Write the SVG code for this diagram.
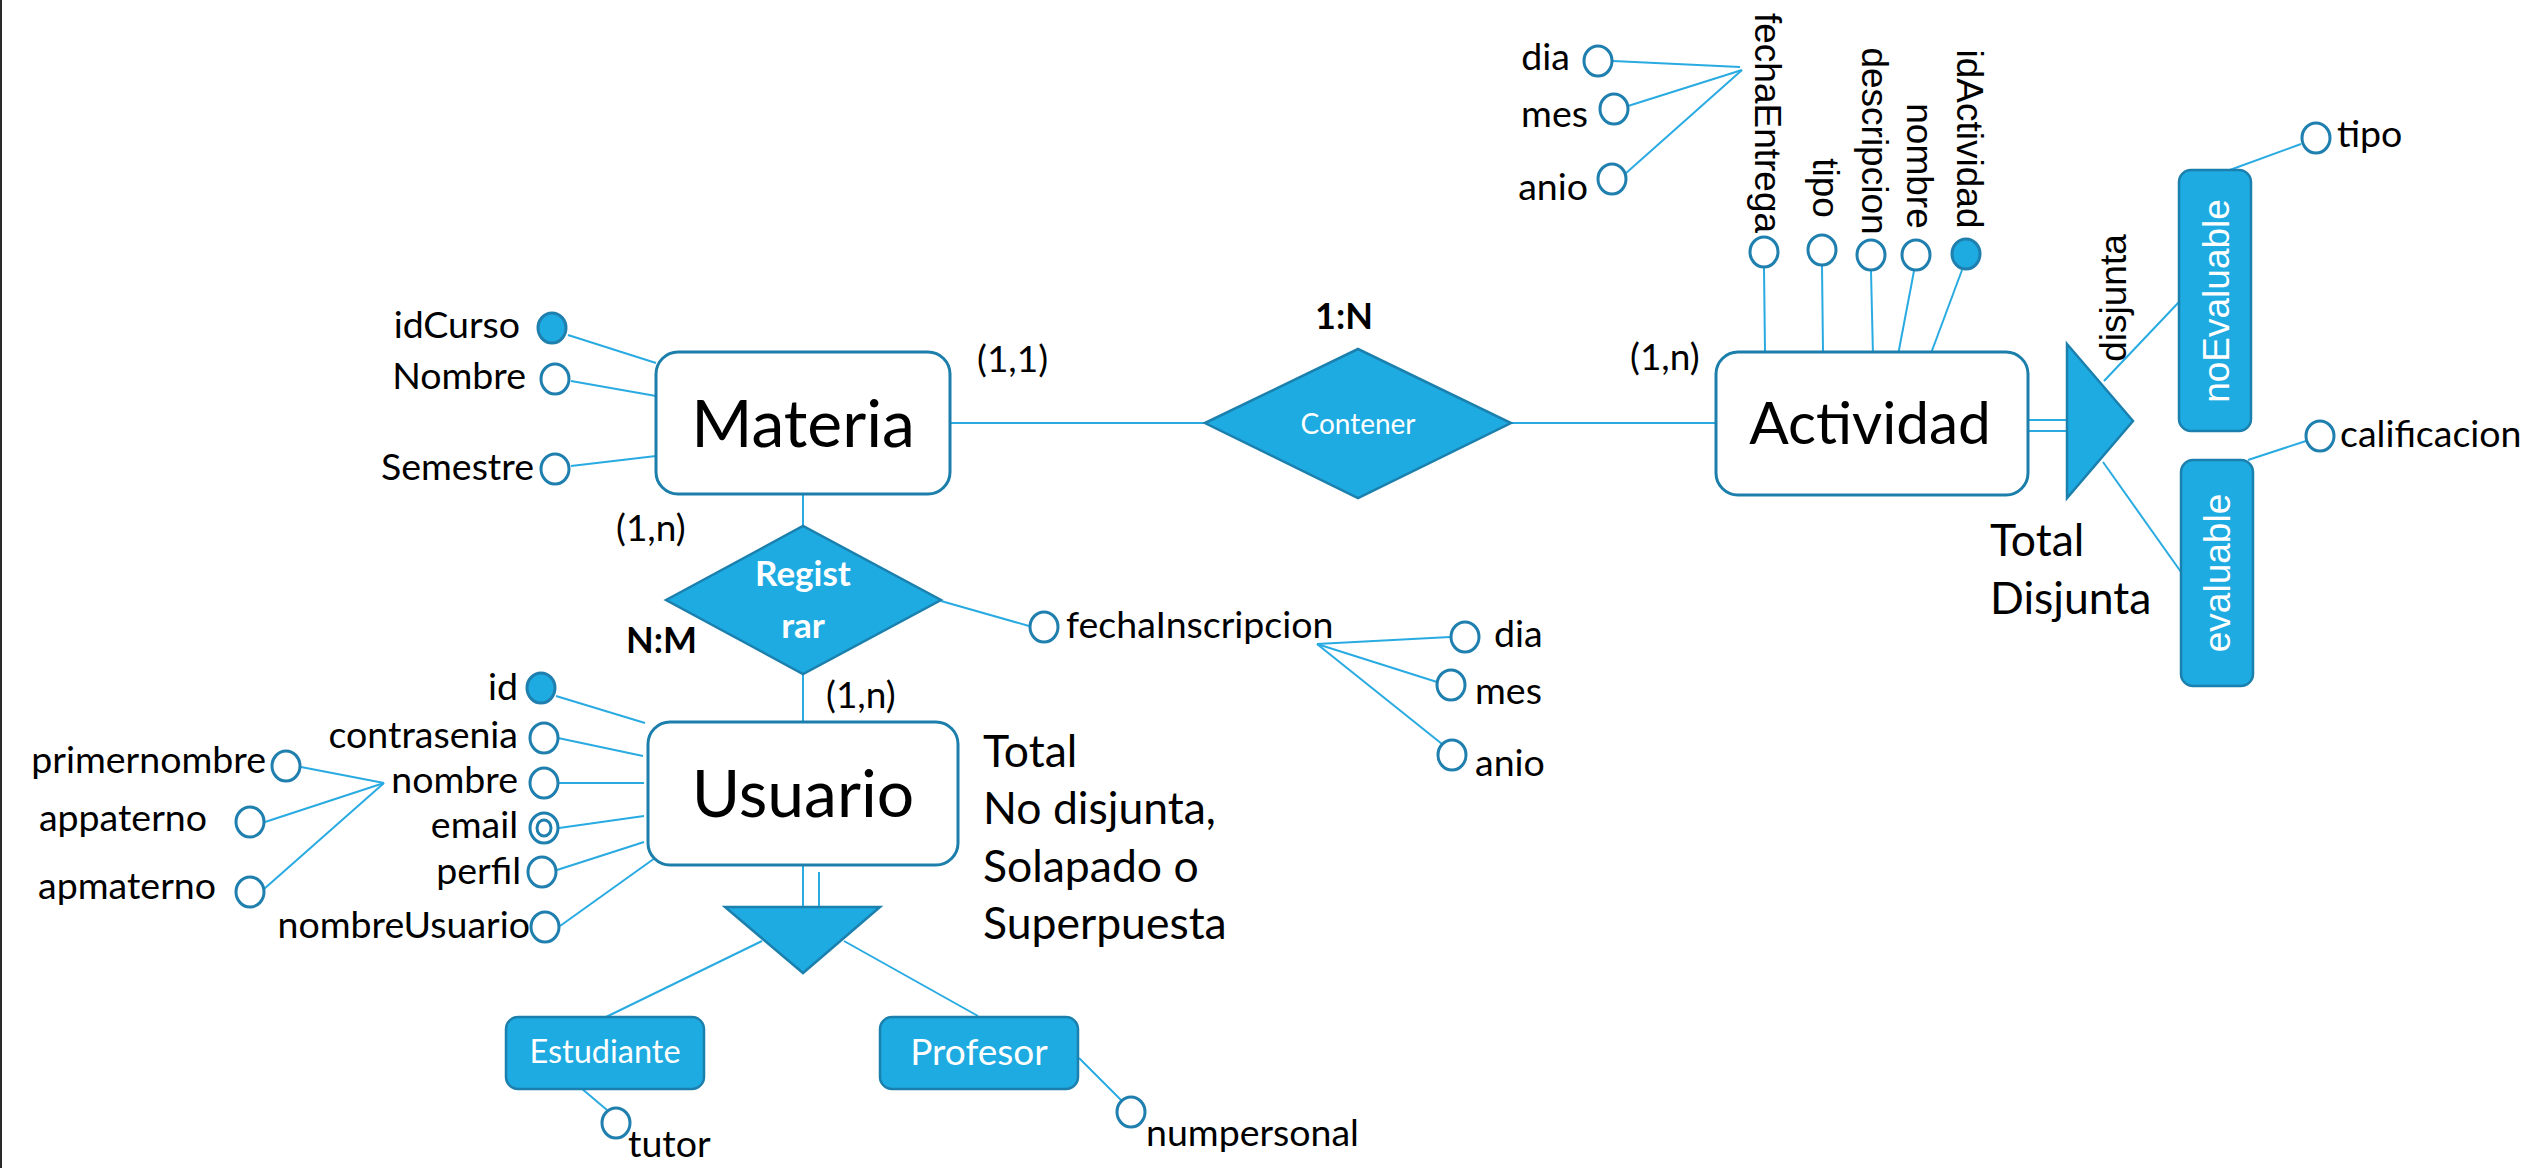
<svg xmlns="http://www.w3.org/2000/svg" width="2534" height="1168" viewBox="0 0 2534 1168">
  <style>
    .ent { fill: #ffffff; stroke: #1c7fab; stroke-width: 3; }
    .rel { fill: #1eabe2; stroke: #1b80ad; stroke-width: 2.5; }
    .sub { fill: #1eabe2; stroke: #1b80ad; stroke-width: 2.5; }
    .att { fill: #ffffff; stroke: #1f7fae; stroke-width: 3; }
    .key { fill: #1eabe2; stroke: #1f7fae; stroke-width: 3; }
    .ln  { stroke: #29abe2; stroke-width: 2; fill: none; }
    text { font-family: Lato, "Liberation Sans", sans-serif; fill: #000000; }
    .big { font-size: 66px; }
    .lbl { font-size: 37.5px; }
    .note { font-size: 44.5px; }
    .card { font-size: 37px; }
    .bold { font-size: 36px; font-weight: bold; }
    .wht { fill: #ffffff; }
    .rot { font-family: "Liberation Sans", Arial, sans-serif; font-size: 37px; }
    .mid { text-anchor: middle; }
    .end { text-anchor: end; }
  </style>

  <!-- page edge -->
  <rect x="0" y="0" width="2" height="1168" fill="#2a2a2a"/>

  <!-- connectors -->
  <g id="connectors">
    <!-- Materia attributes -->
    <line class="ln" x1="568" y1="335" x2="656" y2="363"/>
    <line class="ln" x1="571" y1="381" x2="656" y2="396"/>
    <line class="ln" x1="571" y1="466" x2="656" y2="456"/>
    <!-- Materia - Contener - Actividad -->
    <line class="ln" x1="950" y1="423" x2="1205" y2="423"/>
    <line class="ln" x1="1511" y1="423" x2="1716" y2="423"/>
    <!-- Materia - Registrar - Usuario -->
    <line class="ln" x1="803" y1="494" x2="803" y2="526"/>
    <line class="ln" x1="803" y1="674" x2="803" y2="722"/>
    <line class="ln" x1="941" y1="601" x2="1029" y2="626"/>
    <!-- fechaInscripcion parts -->
    <line class="ln" x1="1317" y1="644" x2="1450" y2="637"/>
    <line class="ln" x1="1317" y1="644" x2="1437" y2="682"/>
    <line class="ln" x1="1317" y1="644" x2="1442" y2="744"/>
    <!-- Actividad attributes -->
    <line class="ln" x1="1764" y1="268" x2="1765" y2="352"/>
    <line class="ln" x1="1822" y1="266" x2="1823" y2="352"/>
    <line class="ln" x1="1871" y1="271" x2="1873" y2="356"/>
    <line class="ln" x1="1914" y1="271" x2="1898" y2="355"/>
    <line class="ln" x1="1962" y1="270" x2="1930" y2="356"/>
    <!-- fechaEntrega parts -->
    <line class="ln" x1="1613" y1="61" x2="1740" y2="67"/>
    <line class="ln" x1="1628" y1="106" x2="1742" y2="70"/>
    <line class="ln" x1="1625" y1="174" x2="1742" y2="70"/>
    <!-- Actividad specialization -->
    <line class="ln" x1="2028" y1="420" x2="2067" y2="420"/>
    <line class="ln" x1="2028" y1="431" x2="2067" y2="431"/>
    <line class="ln" x1="2104" y1="381" x2="2179" y2="302"/>
    <line class="ln" x1="2103" y1="462" x2="2181" y2="572"/>
    <line class="ln" x1="2227" y1="171" x2="2301" y2="144"/>
    <line class="ln" x1="2248" y1="460" x2="2306" y2="441"/>
    <!-- Usuario attributes -->
    <line class="ln" x1="556" y1="696" x2="645" y2="723"/>
    <line class="ln" x1="558" y1="738" x2="643" y2="756"/>
    <line class="ln" x1="559" y1="783" x2="644" y2="783"/>
    <line class="ln" x1="559" y1="828" x2="644" y2="816"/>
    <line class="ln" x1="557" y1="870" x2="644" y2="842"/>
    <line class="ln" x1="560" y1="926" x2="655" y2="858"/>
    <!-- nombre parts -->
    <line class="ln" x1="301" y1="767" x2="384" y2="783"/>
    <line class="ln" x1="265" y1="822" x2="384" y2="783"/>
    <line class="ln" x1="264" y1="889" x2="384" y2="783"/>
    <!-- Usuario specialization -->
    <line class="ln" x1="803" y1="865" x2="803" y2="907"/>
    <line class="ln" x1="819" y1="872" x2="819" y2="907"/>
    <line class="ln" x1="762" y1="941" x2="606" y2="1017"/>
    <line class="ln" x1="844" y1="941" x2="978" y2="1016"/>
    <line class="ln" x1="581" y1="1088" x2="607" y2="1110"/>
    <line class="ln" x1="1079" y1="1058" x2="1121" y2="1100"/>
  </g>

  <!-- entities -->
  <g id="materia">
    <rect class="ent" x="656" y="352" width="294" height="142" rx="22"/>
    <text class="big mid" x="803" y="447">Materia</text>
  </g>
  <g id="actividad">
    <rect class="ent" x="1716" y="352" width="312" height="143" rx="22"/>
    <text class="mid" x="1870" y="444" font-size="58.5">Actividad</text>
  </g>
  <g id="usuario">
    <rect class="ent" x="648" y="722" width="310" height="143" rx="22"/>
    <text class="big mid" x="803" y="817">Usuario</text>
  </g>

  <!-- relationships -->
  <g id="contener">
    <polygon class="rel" points="1205,423 1358,349 1511,423 1358,498"/>
    <text class="wht mid" x="1358" y="434" font-size="28">Contener</text>
  </g>
  <g id="registrar">
    <polygon class="rel" points="666,600 803,526 941,600 803,674"/>
    <text class="wht mid" x="803" y="586" font-size="35" font-weight="bold">Regist</text>
    <text class="wht mid" x="803" y="638" font-size="35" font-weight="bold">rar</text>
  </g>

  <!-- specializations -->
  <g id="actividad-spec">
    <polygon class="sub" points="2067,344 2133,421 2067,498"/>
    <text class="rot mid" transform="translate(2126,298) rotate(-90)">disjunta</text>
  </g>
  <g id="noEvaluable">
    <rect class="sub" x="2179" y="170" width="72" height="261" rx="12"/>
    <text class="rot mid wht" transform="translate(2229,301) rotate(-90)">noEvaluable</text>
  </g>
  <g id="evaluable">
    <rect class="sub" x="2181" y="460" width="72" height="226" rx="12"/>
    <text class="rot mid wht" transform="translate(2230,573) rotate(-90)">evaluable</text>
  </g>
  <g id="usuario-spec">
    <polygon class="sub" points="725,907 880,907 803,973"/>
  </g>
  <g id="estudiante">
    <rect class="sub" x="506" y="1017" width="198" height="72" rx="12"/>
    <text class="wht mid" x="605" y="1063" font-size="32.5">Estudiante</text>
  </g>
  <g id="profesor">
    <rect class="sub" x="880" y="1017" width="198" height="72" rx="12"/>
    <text class="wht mid" x="979" y="1065" font-size="37">Profesor</text>
  </g>

  <!-- Materia attributes -->
  <g id="attr-idCurso">
    <ellipse class="key" cx="552" cy="328" rx="14" ry="15"/>
    <text class="lbl end" x="520" y="338">idCurso</text>
  </g>
  <g id="attr-nombre-materia">
    <ellipse class="att" cx="555" cy="379" rx="14" ry="15"/>
    <text class="lbl end" x="526" y="389">Nombre</text>
  </g>
  <g id="attr-semestre">
    <ellipse class="att" cx="555" cy="469" rx="14" ry="15"/>
    <text class="lbl end" x="534" y="480">Semestre</text>
  </g>

  <!-- Registrar attribute -->
  <g id="attr-fechaInscripcion">
    <ellipse class="att" cx="1044" cy="627" rx="14" ry="15"/>
    <text class="lbl" x="1066" y="638">fechaInscripcion</text>
  </g>
  <g id="attr-dia-insc">
    <ellipse class="att" cx="1465" cy="637" rx="14" ry="15"/>
    <text class="lbl" x="1494" y="647">dia</text>
  </g>
  <g id="attr-mes-insc">
    <ellipse class="att" cx="1451" cy="685" rx="14" ry="15"/>
    <text class="lbl" x="1475" y="704">mes</text>
  </g>
  <g id="attr-anio-insc">
    <ellipse class="att" cx="1452" cy="755" rx="14" ry="15"/>
    <text class="lbl" x="1475" y="776">anio</text>
  </g>

  <!-- Actividad attributes -->
  <g id="attr-fechaEntrega">
    <ellipse class="att" cx="1764" cy="252" rx="14" ry="15"/>
    <text class="rot mid" transform="translate(1755,123) rotate(90)">fechaEntrega</text>
  </g>
  <g id="attr-tipo-actividad">
    <ellipse class="att" cx="1822" cy="250" rx="14" ry="15"/>
    <text class="rot mid" transform="translate(1813,188) rotate(90)">tipo</text>
  </g>
  <g id="attr-descripcion">
    <ellipse class="att" cx="1871" cy="255" rx="14" ry="15"/>
    <text class="rot mid" transform="translate(1862,141) rotate(90)">descripcion</text>
  </g>
  <g id="attr-nombre-actividad">
    <ellipse class="att" cx="1916" cy="255" rx="14" ry="15"/>
    <text class="rot mid" transform="translate(1907,166) rotate(90)">nombre</text>
  </g>
  <g id="attr-idActividad">
    <ellipse class="key" cx="1966" cy="254" rx="14" ry="15"/>
    <text class="rot mid" transform="translate(1957,139) rotate(90)">idActividad</text>
  </g>
  <g id="attr-dia-entrega">
    <ellipse class="att" cx="1598" cy="61" rx="14" ry="15"/>
    <text class="lbl end" x="1570" y="70">dia</text>
  </g>
  <g id="attr-mes-entrega">
    <ellipse class="att" cx="1614" cy="109" rx="14" ry="15"/>
    <text class="lbl end" x="1588" y="127">mes</text>
  </g>
  <g id="attr-anio-entrega">
    <ellipse class="att" cx="1612" cy="179" rx="14" ry="15"/>
    <text class="lbl end" x="1588" y="200">anio</text>
  </g>

  <!-- subtype attributes -->
  <g id="attr-tipo-noEvaluable">
    <ellipse class="att" cx="2316" cy="138" rx="14" ry="15"/>
    <text class="lbl" x="2337" y="147">tipo</text>
  </g>
  <g id="attr-calificacion">
    <ellipse class="att" cx="2320" cy="436" rx="14" ry="15"/>
    <text class="lbl" x="2340" y="447">calificacion</text>
  </g>

  <!-- Usuario attributes -->
  <g id="attr-id">
    <ellipse class="key" cx="541" cy="688" rx="14" ry="15"/>
    <text class="lbl end" x="518" y="700">id</text>
  </g>
  <g id="attr-contrasenia">
    <ellipse class="att" cx="544" cy="738" rx="14" ry="15"/>
    <text class="lbl end" x="518" y="748">contrasenia</text>
  </g>
  <g id="attr-nombre-usuario">
    <ellipse class="att" cx="544" cy="783" rx="14" ry="15"/>
    <text class="lbl end" x="518" y="793">nombre</text>
  </g>
  <g id="attr-email">
    <ellipse class="att" cx="544" cy="828" rx="14" ry="15"/>
    <ellipse class="att" cx="544" cy="828" rx="7" ry="8" stroke-width="2.5"/>
    <text class="lbl end" x="518" y="838">email</text>
  </g>
  <g id="attr-perfil">
    <ellipse class="att" cx="542" cy="872" rx="14" ry="15"/>
    <text class="lbl end" x="521" y="884">perfil</text>
  </g>
  <g id="attr-nombreUsuario">
    <ellipse class="att" cx="545" cy="927" rx="14" ry="15"/>
    <text class="lbl end" x="530" y="938">nombreUsuario</text>
  </g>
  <g id="attr-primernombre">
    <ellipse class="att" cx="286" cy="766" rx="14" ry="15"/>
    <text class="lbl end" x="266" y="773">primernombre</text>
  </g>
  <g id="attr-appaterno">
    <ellipse class="att" cx="250" cy="822" rx="14" ry="15"/>
    <text class="lbl end" x="207" y="831">appaterno</text>
  </g>
  <g id="attr-apmaterno">
    <ellipse class="att" cx="250" cy="892" rx="14" ry="15"/>
    <text class="lbl end" x="216" y="899">apmaterno</text>
  </g>
  <g id="attr-tutor">
    <ellipse class="att" cx="616" cy="1123" rx="14" ry="15"/>
    <text class="lbl" x="628" y="1157">tutor</text>
  </g>
  <g id="attr-numpersonal">
    <ellipse class="att" cx="1131" cy="1112" rx="14" ry="15"/>
    <text class="lbl" x="1146" y="1146">numpersonal</text>
  </g>

  <!-- cardinalities and notes -->
  <g id="labels">
    <text class="card" x="977" y="372">(1,1)</text>
    <text class="card" x="1630" y="370">(1,n)</text>
    <text class="card" x="616" y="541">(1,n)</text>
    <text class="card" x="826" y="708">(1,n)</text>
    <text class="bold mid" x="1344" y="329">1:N</text>
    <text class="bold" x="626" y="653">N:M</text>
    <text class="note" x="983" y="767">Total</text>
    <text class="note" x="983" y="824">No disjunta,</text>
    <text class="note" x="983" y="882">Solapado o</text>
    <text class="note" x="983" y="939">Superpuesta</text>
    <text class="note" x="1990" y="556">Total</text>
    <text class="note" x="1990" y="614">Disjunta</text>
  </g>
</svg>
